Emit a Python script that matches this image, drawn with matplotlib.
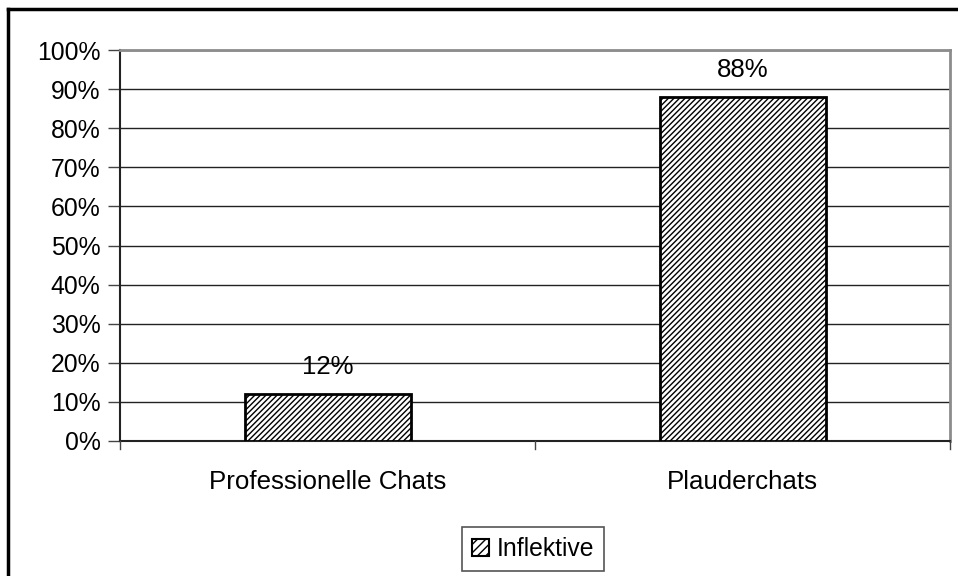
import matplotlib
matplotlib.use("Agg")
import matplotlib.pyplot as plt
import matplotlib.patches as mpatches
from matplotlib.lines import Line2D

categories = ["Professionelle Chats", "Plauderchats"]
values = [12, 88]
series_name = "Inflektive"
yticks = [0, 10, 20, 30, 40, 50, 60, 70, 80, 90, 100]

plt.rcParams['font.family'] = ['Liberation Sans', 'DejaVu Sans']
plt.rcParams['hatch.color'] = '#404040'
plt.rcParams['hatch.linewidth'] = 1.0

W, H = 958, 576
fig = plt.figure(figsize=(W / 100, H / 100), dpi=100)
fig.patch.set_facecolor('white')

# plot area in pixels: x 120..950, y 50..441
ax = fig.add_axes([120 / W, (H - 441) / H, 830 / W, 391 / H])

x = list(range(len(categories)))
bars = ax.bar(x, values, width=0.4, facecolor='white', edgecolor='black',
              linewidth=2, hatch='//////', zorder=3, label=series_name)

ax.set_xlim(-0.5, len(categories) - 0.5)
ax.set_ylim(0, 100)
ax.set_yticks(yticks)
ax.set_yticklabels([f'{v}%' for v in yticks], fontsize=17.8)
ax.yaxis.grid(True, color='#222222', linewidth=1, zorder=0)
ax.set_axisbelow(True)

ax.set_xticks(x)
ax.set_xticklabels(categories, fontsize=18.6)
ax.tick_params(axis='x', length=0, pad=21)
ax.tick_params(axis='y', length=9, width=1, color='#444444', pad=5)

# category separator ticks
for xs in [-0.5, 0.5, 1.5]:
    ax.plot([xs, xs], [0, -2], color='#444444', lw=1, clip_on=False, zorder=4)

for sp in ['left', 'bottom']:
    ax.spines[sp].set_color('#222222')
    ax.spines[sp].set_linewidth(1.5)
for sp in ['top', 'right']:
    ax.spines[sp].set_color('#8c8c8c')
    ax.spines[sp].set_linewidth(2)

for b, v in zip(bars, values):
    ax.annotate(f'{v}%', (b.get_x() + b.get_width() / 2, v), xytext=(0, 11),
                textcoords='offset points', ha='center', va='bottom', fontsize=18.6)

leg = fig.legend(handles=[mpatches.Patch(facecolor='white', edgecolor='black', hatch='////',
                                         linewidth=1.5, label=series_name)],
                 loc='center', bbox_to_anchor=(533 / W, (H - 549) / H),
                 fontsize=17.8, fancybox=False, framealpha=1, handlelength=0.7,
                 handleheight=0.7, handletextpad=0.3, borderpad=0.4)
leg.get_frame().set_edgecolor('#555555')
leg.get_frame().set_linewidth(1.2)

# outer border (only left and top visible)
fig.add_artist(Line2D([8 / W, 8 / W], [0, (H - 9) / H], color='black', lw=2.5,
                      transform=fig.transFigure))
fig.add_artist(Line2D([8 / W, 1], [(H - 9) / H, (H - 9) / H], color='black', lw=2.5,
                      transform=fig.transFigure))

fig.savefig('out.png', dpi=100)
